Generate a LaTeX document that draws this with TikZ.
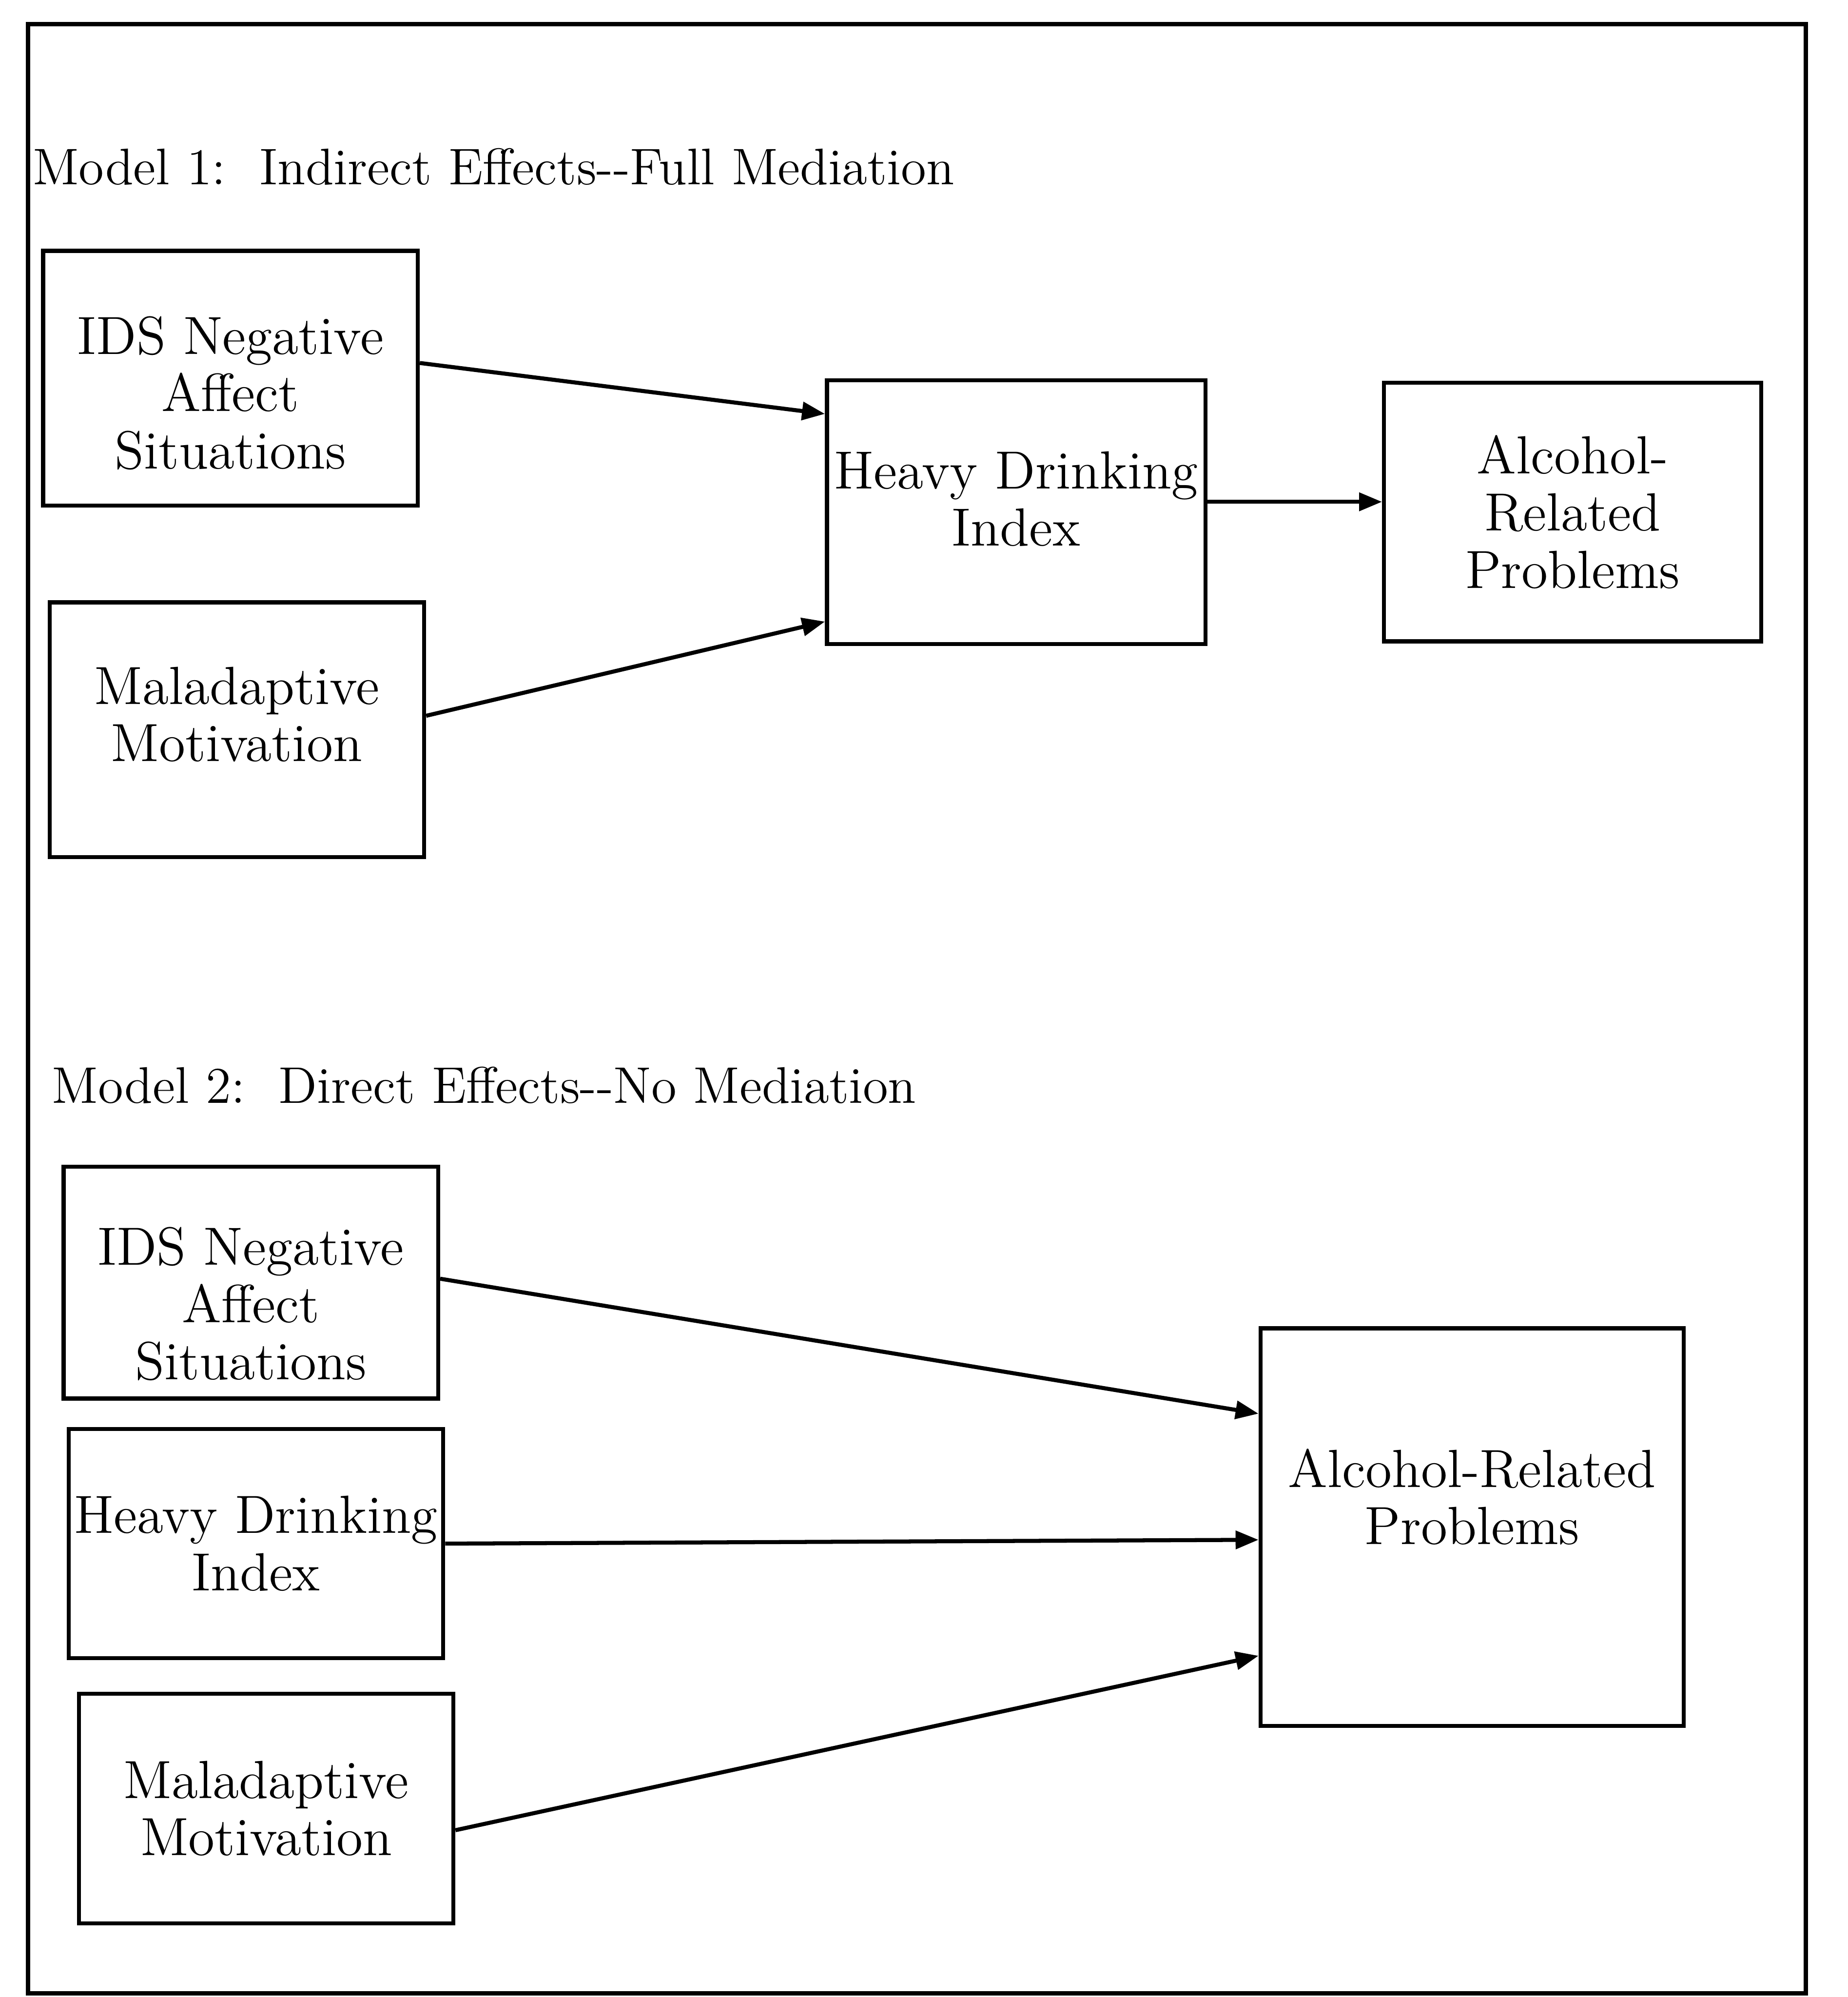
\documentclass[tikz,border=0pt]{standalone}
\usetikzlibrary{arrows.meta, positioning, calc}
\newcommand{\toppad}[1]{\rule{0pt}{#1}}
\newcommand{\lowpad}[1]{\rule[-#1]{0pt}{#1}}
\begin{document}
\begin{tikzpicture}[x=0.01cm, y=-0.01cm,
  font=\fontsize{12}{12.8}\selectfont,
  box/.style={draw, line width=0.9pt, align=center, inner sep=0pt,
    minimum width=2.94cm, minimum height=2.0cm},
  heading/.style={anchor=base west, inner sep=0pt, font=\fontsize{11.5}{12}\selectfont},
  link/.style={line width=0.9pt, -{Triangle[length=0.18cm, width=0.14cm]}}]
  \useasboundingbox (0,0) rectangle (1451,1568);
  \draw[line width=1pt] (22,19) rectangle (1418,1565);

  % Model 1
  \node[heading] (title1) at (25,145) {Model 1:\ \ Indirect Effects-{}-Full Mediation};
  \node[box] (ids1) at (181,297) {\toppad{15pt}IDS Negative\\Affect\\Situations};
  \node[box] (mal1) at (186,573) {Maladaptive\\Motivation\lowpad{7pt}};
  \node[box, minimum width=2.97cm, minimum height=2.07cm] (hdi1) at (798,402) {Heavy Drinking\\Index\lowpad{6pt}};
  \node[box, minimum width=2.96cm, minimum height=2.03cm] (arp1) at (1235,402) {Alcohol-\\Related\\Problems};

  \draw[link] ([yshift=0.12cm]ids1.east) -- ([yshift=0.77cm]hdi1.west);
  \draw[link] ([yshift=0.11cm]mal1.east) -- ([yshift=-0.86cm]hdi1.west);
  \draw[link] ([yshift=0.08cm]hdi1.east) -- ([yshift=0.08cm]arp1.west);

  % Model 2
  \node[heading] (title2) at (40,866) {Model 2:\ \ Direct Effects-{}-No Mediation};
  \node[box, minimum height=1.82cm] (ids2) at (197,1007) {\toppad{18pt}IDS Negative\\Affect\\Situations};
  \node[box, minimum height=1.8cm] (hdi2) at (201,1212) {Heavy Drinking\\Index};
  \node[box, minimum height=1.8cm] (mal2) at (209,1420) {Maladaptive\\Motivation};
  \node[box, minimum width=3.32cm, minimum height=3.12cm] (arp2) at (1156,1199) {Alcohol-Related\\Problems\lowpad{13.6pt}};

  \draw[link] ([yshift=0.03cm]ids2.east) -- ([yshift=0.89cm]arp2.west);
  \draw[link] (hdi2.east) -- ([yshift=-0.1cm]arp2.west);
  \draw[link] ([yshift=-0.17cm]mal2.east) -- ([yshift=-1.01cm]arp2.west);
\end{tikzpicture}
\end{document}
